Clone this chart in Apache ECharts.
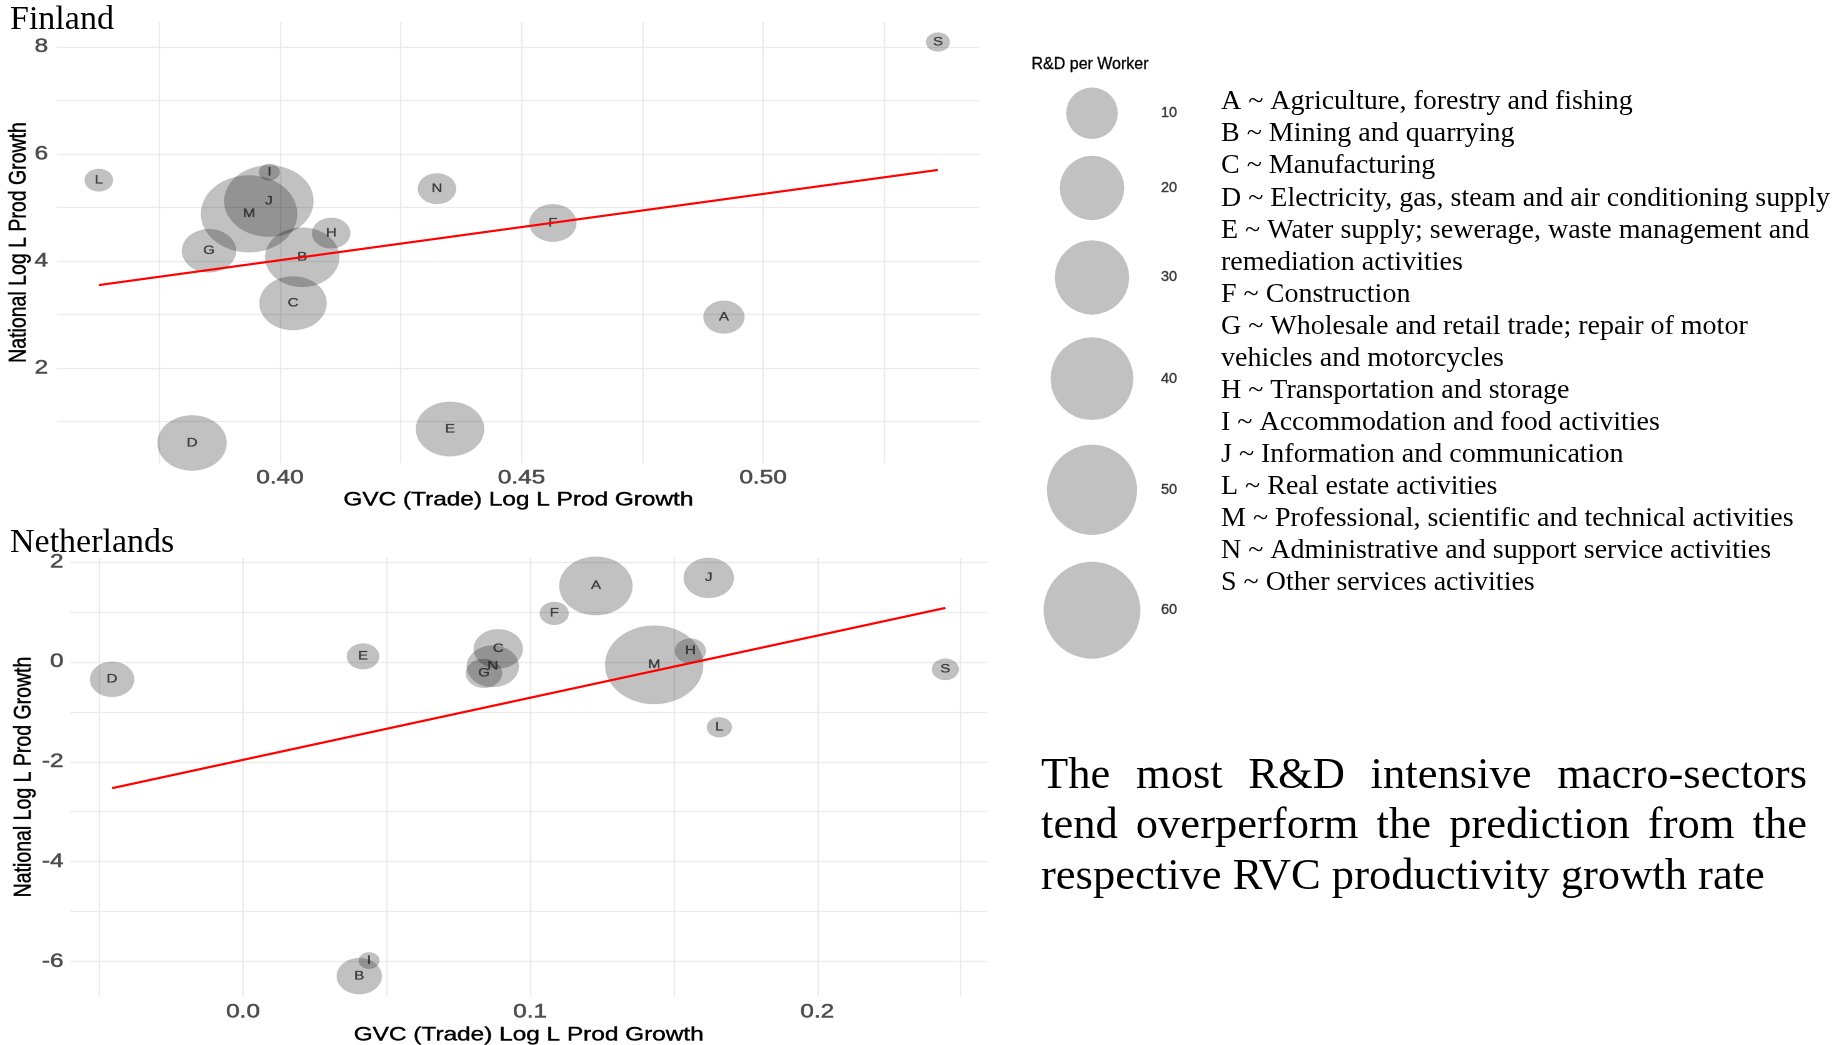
<!DOCTYPE html>
<html>
<head>
<meta charset="utf-8">
<title>GVC vs national labour productivity growth</title>
<script src="https://cdn.jsdelivr.net/npm/echarts@6/dist/echarts.min.js"></script>
<style>
  html, body { margin: 0; padding: 0; background: #ffffff; overflow: hidden; }
  /* the two scatter panels are drawn narrow and widened horizontally */
  #panels { position: absolute; left: 0; top: 0; width: 800px; height: 1045px;
            transform-origin: 0 0; transform: scaleX(1.25); }
  #side { position: absolute; left: 0; top: 0; width: 1848px; height: 1045px; }
</style>
</head>
<body>
<div id="panels"></div>
<div id="side"></div>
<script>
// ---- data -------------------------------------------------------------
const sectors = ['A', 'B', 'C', 'D', 'E', 'F', 'G', 'H', 'I', 'J', 'L', 'M', 'N', 'S'];

// Finland: GVC (trade) growth, national growth, R&D per worker
const finGvc = [0.4919, 0.4046, 0.4027, 0.3818, 0.4352, 0.4565, 0.3853, 0.4106, 0.3978, 0.3977, 0.3625, 0.3936, 0.4325, 0.5362];
const finNat = [2.95, 4.07, 3.21, 0.60, 0.86, 4.71, 4.19, 4.52, 5.66, 5.12, 5.51, 4.88, 5.35, 8.09];
const finRd  = [4.3, 29.5, 22.3, 24.2, 23.3, 7.2, 11.6, 3.2, 0.0, 48.4, 0.6, 58.8, 3.2, 0.1];
const finFitGvc = [0.3625, 0.5362];
const finFitNat = [3.55, 5.70];

// Netherlands
const nldGvc = [0.1229, 0.0405, 0.0889, -0.0456, 0.0418, 0.1084, 0.0839, 0.1558, 0.0439, 0.1622, 0.1659, 0.1432, 0.0870, 0.2446];
const nldNat = [1.52, -6.29, 0.26, -0.35, 0.11, 0.97, -0.23, 0.22, -5.98, 1.68, -1.31, -0.06, -0.09, -0.15];
const nldRd  = [28.4, 6.2, 8.4, 5.7, 1.4, 0.7, 2.5, 1.1, 0.0, 9.0, 0.2, 61.9, 10.2, 0.4];
const nldFitGvc = [-0.0456, 0.2446];
const nldFitNat = [-2.53, 1.08];

// axis breaks (grid lines) and labelled ticks
const finXGrid = [0.375, 0.40, 0.425, 0.45, 0.475, 0.50, 0.525];
const finXTicks = [0.40, 0.45, 0.50];
const finYGrid = [1, 2, 3, 4, 5, 6, 7, 8];
const finYTicks = [2, 4, 6, 8];
const nldXGrid = [-0.05, 0.0, 0.05, 0.1, 0.15, 0.2, 0.25];
const nldXTicks = [0.0, 0.1, 0.2];
const nldYGrid = [-6, -5, -4, -3, -2, -1, 0, 1, 2];
const nldYTicks = [-6, -4, -2, 0, 2];

// size legend breaks
const sizeBreaks = [10, 20, 30, 40, 50, 60];

const sectorNames = [
  'A ~ Agriculture, forestry and fishing',
  'B ~ Mining and quarrying',
  'C ~ Manufacturing',
  'D ~ Electricity, gas, steam and air conditioning supply',
  'E ~ Water supply; sewerage, waste management and',
  'remediation activities',
  'F ~ Construction',
  'G ~ Wholesale and retail trade; repair of motor',
  'vehicles and motorcycles',
  'H ~ Transportation and storage',
  'I ~ Accommodation and food activities',
  'J ~ Information and communication',
  'L ~ Real estate activities',
  'M ~ Professional, scientific and technical activities',
  'N ~ Administrative and support service activities',
  'S ~ Other services activities'
];

const noteLines = [
  'The most R&D intensive macro-sectors',
  'tend overperform the prediction from the',
  'respective RVC productivity growth rate'
];

// ---- helpers ----------------------------------------------------------
const STRETCH = 1.25;                 // horizontal widening of the panels
const SANS = 'Liberation Sans';
const SERIF = 'Liberation Serif';
const diam = v => 20.5 + 9.85 * Math.sqrt(Math.max(v, 0));   // bubble diameter for R&D value

function expandRange(...lists) {
  const all = [].concat(...lists);
  const lo = Math.min(...all), hi = Math.max(...all);
  const pad = (hi - lo) * 0.05;
  return [lo - pad, hi + pad];
}

const mctx = document.createElement('canvas').getContext('2d');
function textWidth(t, size, family) {
  mctx.font = size + 'px ' + family;
  return mctx.measureText(t).width;
}

// ---- scatter panels ---------------------------------------------------
function panelAxes(gi, xr, yr, xGrid, xTicks, xDigits, yGrid, yTicks, gaps) {
  const tickText = { color: '#4d4d4d', fontSize: 19.5, fontFamily: SANS,
                     textBorderColor: '#4d4d4d', textBorderWidth: 0.5 };
  const nameText = { color: '#000000', fontSize: 19.5, fontFamily: SANS,
                     textBorderColor: '#000000', textBorderWidth: 0.4 };
  const grid = { show: true, lineStyle: { color: '#ebebeb', width: 1.2 } };
  return {
    x: {
      type: 'value', gridIndex: gi, min: xr[0], max: xr[1],
      axisLine: { show: false },
      axisTick: { show: false, customValues: xGrid },
      axisLabel: Object.assign({ customValues: xTicks, margin: gaps.xLabel,
        formatter: v => v.toFixed(xDigits) }, tickText),
      splitLine: grid,
      name: 'GVC (Trade) Log L Prod Growth', nameLocation: 'middle',
      nameGap: gaps.xName, nameMoveOverlap: false, nameTextStyle: nameText
    },
    y: {
      type: 'value', gridIndex: gi, min: yr[0], max: yr[1],
      axisLine: { show: false },
      axisTick: { show: false, customValues: yGrid },
      axisLabel: Object.assign({ customValues: yTicks, margin: gaps.yLabel,
        formatter: v => String(v) }, tickText),
      splitLine: grid,
      name: 'National Log L Prod Growth', nameLocation: 'middle',
      nameGap: gaps.yName, nameMoveOverlap: false, nameTextStyle: nameText
    }
  };
}

function bubbleSeries(gi, gvc, nat, rd) {
  return {
    type: 'scatter', xAxisIndex: gi, yAxisIndex: gi, z: 2,
    data: sectors.map((s, k) => ({ name: s, value: [gvc[k], nat[k], rd[k]] })),
    symbolSize: v => diam(v[2]) / STRETCH,
    itemStyle: { color: 'rgba(0,0,0,0.3)', borderColor: 'rgba(0,0,0,0.1)', borderWidth: 0.8 },
    label: { show: true, position: 'inside', formatter: '{b}', color: '#222222',
             fontSize: 12, fontFamily: SANS,
             textBorderColor: '#222222', textBorderWidth: 0.3 },
    emphasis: { disabled: true }
  };
}

function fitSeries(gi, fx, fy) {
  return {
    type: 'line', xAxisIndex: gi, yAxisIndex: gi, z: 3, silent: true,
    data: fx.map((x, k) => [x, fy[k]]), symbol: 'none',
    lineStyle: { color: '#ff0000', width: 2.2 }
  };
}

const finAx = panelAxes(0,
  expandRange(finGvc, finFitGvc), expandRange(finNat, finFitNat),
  finXGrid, finXTicks, 2, finYGrid, finYTicks,
  { xLabel: 5, xName: 27, yLabel: 7, yName: 20.5 });
const nldAx = panelAxes(1,
  expandRange(nldGvc, nldFitGvc), expandRange(nldNat, nldFitNat),
  nldXGrid, nldXTicks, 1, nldYGrid, nldYTicks,
  { xLabel: 6, xName: 29, yLabel: 5.5, yName: 27 });

const panels = echarts.init(document.getElementById('panels'), null, { devicePixelRatio: 2 });
panels.setOption({
  animation: false,
  backgroundColor: 'transparent',
  grid: [
    { left: 45.5, top: 22, width: 738.4, height: 441, outerBoundsMode: 'none' },
    { left: 56.3, top: 558, width: 733.3, height: 438, outerBoundsMode: 'none' }
  ],
  xAxis: [finAx.x, nldAx.x],
  yAxis: [finAx.y, nldAx.y],
  series: [
    bubbleSeries(0, finGvc, finNat, finRd),
    fitSeries(0, finFitGvc, finFitNat),
    bubbleSeries(1, nldGvc, nldNat, nldRd),
    fitSeries(1, nldFitGvc, nldFitNat)
  ]
});

// ---- titles, size legend, sector key and note ----------------------------
const LEGEND_X = 1092;        // centre line of the legend keys
const LEGEND_TOP = 80;        // top of the first key
const KEY_SCALE = 1.287;      // key height relative to circle diameter
let keyCursor = LEGEND_TOP;
const keyY = sizeBreaks.map(v => {
  const d = diam(v);
  const c = keyCursor + d * KEY_SCALE / 2;
  keyCursor += d * KEY_SCALE;
  return c;
});

const graphics = [];
function addText(text, x, baseline, size, family, color, weightStroke) {
  const style = { text: text, fontSize: size, fontFamily: family, fill: color,
                  align: 'left', verticalAlign: 'middle' };
  if (weightStroke) { style.stroke = color; style.lineWidth = weightStroke; }
  graphics.push({ type: 'text', x: x, y: baseline - 0.34 * size, silent: true, style: style });
}

// panel titles
addText('Finland', 10, 32, 34, SERIF, '#000000');
addText('Netherlands', 10, 555, 34, SERIF, '#000000');

// legend title
addText('R&D per Worker', 1031.5, 70.5, 16, SANS, '#000000', 0.3);

// sector key
const keySize = 100 * 609 / textWidth(sectorNames[3], 100, SERIF);
sectorNames.forEach((t, i) => addText(t, 1221, 111.5 + 32.07 * i, keySize, SERIF, '#000000'));

// note, justified except the last line
const NOTE_LEFT = 1041, NOTE_RIGHT = 1807;
const noteSize = 100 * 724 / textWidth(noteLines[2], 100, SERIF);
noteLines.forEach((line, i) => {
  const base = 791 + 50.5 * i;
  const words = line.split(' ');
  const widths = words.map(w => textWidth(w, noteSize, SERIF));
  const total = widths.reduce((a, b) => a + b, 0);
  const last = i === noteLines.length - 1;
  const gap = last ? textWidth(' ', noteSize, SERIF)
                   : (NOTE_RIGHT - NOTE_LEFT - total) / (words.length - 1);
  let x = NOTE_LEFT;
  words.forEach((w, k) => {
    addText(w, x, base, noteSize, SERIF, '#000000');
    x += widths[k] + gap;
  });
});

const side = echarts.init(document.getElementById('side'));
side.setOption({
  animation: false,
  backgroundColor: 'transparent',
  grid: { left: 0, top: 0, width: 1848, height: 1045, outerBoundsMode: 'none' },
  xAxis: { type: 'value', min: 0, max: 1848, show: false },
  yAxis: { type: 'value', min: 0, max: 1045, inverse: true, show: false },
  series: [{
    type: 'scatter', clip: false, silent: true,
    data: sizeBreaks.map((v, k) => ({ name: String(v), value: [LEGEND_X, keyY[k], v] })),
    symbolSize: v => diam(v[2]),
    itemStyle: { color: 'rgba(0,0,0,0.3)' },
    label: { show: true, position: 'inside', formatter: '{b}', offset: [69, 0],
             align: 'left', color: '#111111', fontSize: 14.5, fontFamily: SANS,
             textBorderColor: '#111111', textBorderWidth: 0.4 }
  }],
  graphic: graphics
});
</script>
</body>
</html>
